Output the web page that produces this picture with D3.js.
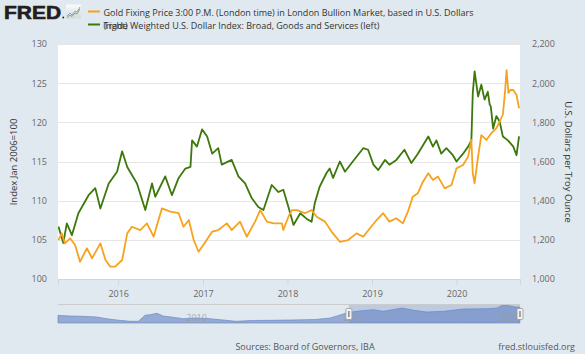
<!DOCTYPE html>
<html><head><meta charset="utf-8">
<script src="https://cdn.jsdelivr.net/npm/d3@7"></script>
<style>
body{margin:0;background:#e1e9f0;}
svg{display:block;}
text{font-family:"Open Sans",sans-serif;}
</style>
</head><body>
<svg id="c" width="585" height="354"></svg>
<script>
// ---------- DATA ----------
const dollarDates = ["2015-04-18","2015-05-09","2015-05-24","2015-06-15","2015-07-13","2015-08-26","2015-09-24","2015-10-16","2015-11-21","2015-12-27",
"2016-01-18","2016-02-09","2016-03-22","2016-04-27","2016-05-26","2016-06-09","2016-07-22","2016-08-20","2016-09-18","2016-10-17","2016-11-08","2016-11-15","2016-12-06","2016-12-28",
"2017-01-19","2017-02-10","2017-03-08","2017-03-23","2017-05-05","2017-06-03","2017-07-02","2017-07-31","2017-08-28","2017-09-19","2017-10-25","2017-11-23","2017-12-14",
"2018-01-05","2018-01-27","2018-02-25","2018-03-24","2018-04-15","2018-04-29","2018-05-20","2018-06-18","2018-07-02","2018-07-17","2018-08-15","2018-09-06","2018-10-05","2018-10-26","2018-11-24","2018-12-15",
"2019-01-07","2019-01-28","2019-02-26","2019-03-17","2019-04-16","2019-05-21","2019-06-20","2019-07-18","2019-09-01","2019-09-21","2019-10-06","2019-10-27","2019-11-18","2019-12-16",
"2020-01-01","2020-01-29","2020-02-20","2020-03-05","2020-03-11","2020-03-19","2020-04-03","2020-04-17","2020-05-01","2020-05-15","2020-05-23","2020-05-28","2020-06-07","2020-06-21","2020-07-05","2020-07-19","2020-08-10","2020-09-02","2020-09-16","2020-09-27"];
const dollarValues = [106.7,104.6,107.1,105.6,108.4,110.7,111.6,109.0,112.2,113.7,
116.3,114.3,112.2,108.8,112.2,110.5,113.1,110.7,112.9,114.1,114.3,117.7,116.9,119.1,
118.2,116.0,116.7,114.6,115.2,113.1,112.2,110.3,109.2,108.8,112.0,111.1,111.4,
109.2,106.9,108.4,107.7,107.3,109.7,111.8,113.5,114.1,112.9,115.0,113.7,114.8,115.6,116.7,116.5,
114.6,113.9,115.2,114.6,115.2,116.5,114.8,116.0,118.2,116.9,117.7,116.0,116.7,115.8,
115.0,116.0,116.9,117.7,123.7,126.5,123.3,124.8,122.9,123.9,122.3,122.0,119.2,120.8,120.1,118.2,117.7,116.9,115.8,118.2];

const goldDates = ["2015-04-18","2015-05-02","2015-05-16","2015-06-07","2015-06-29","2015-07-20","2015-08-19","2015-09-10","2015-10-16","2015-11-07","2015-11-28","2015-12-19",
"2016-01-18","2016-02-09","2016-02-29","2016-04-05","2016-05-04","2016-06-02","2016-06-23","2016-07-08","2016-08-13","2016-09-18","2016-10-09","2016-11-01","2016-11-22","2016-12-13",
"2017-01-12","2017-02-10","2017-03-08","2017-04-14","2017-05-05","2017-06-10","2017-07-09","2017-08-14","2017-09-05","2017-10-04","2017-11-02","2017-12-08","2017-12-14",
"2018-01-05","2018-01-20","2018-02-11","2018-03-17","2018-04-15","2018-05-07","2018-06-12","2018-07-10","2018-08-15","2018-09-20","2018-10-26","2018-11-24","2018-12-23",
"2019-01-21","2019-02-18","2019-03-17","2019-04-16","2019-05-14","2019-06-05","2019-06-26","2019-07-18","2019-08-09","2019-09-01","2019-09-21","2019-10-13","2019-11-11","2019-12-10",
"2020-01-01","2020-01-29","2020-02-20","2020-03-05","2020-03-11","2020-03-19","2020-04-03","2020-04-17","2020-05-09","2020-05-30","2020-06-21","2020-07-05","2020-07-19","2020-07-28","2020-08-04","2020-08-12","2020-08-20","2020-09-02","2020-09-16","2020-09-27"];
const goldValues = [1199,1233,1182,1208,1174,1088,1157,1106,1182,1097,1063,1063,
1097,1233,1267,1250,1284,1216,1301,1361,1344,1336,1267,1301,1199,1139,
1190,1242,1250,1284,1250,1293,1216,1293,1352,1293,1284,1284,1250,
1318,1352,1352,1336,1352,1318,1293,1242,1190,1199,1233,1216,1259,
1301,1336,1293,1310,1284,1344,1420,1438,1497,1540,1506,1523,1463,1480,
1565,1582,1625,1710,1540,1489,1625,1735,1710,1744,1770,1803,1840,1950,2067,1950,1965,1965,1940,1872];

const navDates = ["2006-01-01","2006-05-15","2006-10-20","2007-03-28","2007-07-23","2007-11-17","2008-04-20","2008-07-27","2008-10-12","2008-12-10","2009-03-01","2009-05-12","2009-09-06","2010-01-01","2010-06-06","2010-11-10",
"2011-09-08","2012-03-02","2012-10-08","2013-06-25","2014-03-15","2014-09-10","2015-03-20","2015-07-15","2016-01-25","2016-05-22","2016-12-24","2017-05-08","2017-10-12","2018-04-22","2018-12-12","2019-09-12","2020-01-08","2020-03-20","2020-08-08","2020-09-30"];
const navValues = [100.6,98.9,98.2,96.5,92.4,89.3,86.1,86.1,100.6,102.1,105.5,98.9,95.8,92.4,94.1,92.4,
86.1,88.0,88.5,89.3,90.5,94.1,106.2,110.3,114.2,110.3,118.3,112.8,108.6,110.3,115.9,116.6,118.3,126.3,120.7,120.0];

const leftTicks = [100,105,110,115,120,125,130];
const rightTicks = [1000,1200,1400,1600,1800,2000,2200];
const yearTicks = ["2016","2017","2018","2019","2020"];
const navYearTicks = ["2010","2015","2020"];
const xStart = "2015-04-16", xEnd = "2020-10-01";
const navStart = "2006-01-01", navEnd = "2020-10-01";

// ---------- CHART ----------
const parse = d3.timeParse("%Y-%m-%d");
const svg = d3.select("#c");
const W = 585, H = 354;
const P = {l:58, r:520, t:44, b:279};

const x = d3.scaleTime().domain([parse(xStart), parse(xEnd)]).range([P.l, P.r]);
const yL = d3.scaleLinear().domain([100,130]).range([P.b, P.t]);
const yR = d3.scaleLinear().domain([1000,2200]).range([P.b, P.t]);

svg.append("rect").attr("width",W).attr("height",H).attr("fill","#e1e9f0");
svg.append("rect").attr("x",P.l).attr("y",P.t).attr("width",P.r-P.l).attr("height",P.b-P.t).attr("fill","#ffffff");

// gridlines
svg.append("g").selectAll("line").data(leftTicks).join("line")
  .attr("x1",P.l).attr("x2",P.r).attr("y1",d=>Math.round(yL(d))+0.5).attr("y2",d=>Math.round(yL(d))+0.5)
  .attr("stroke","#e6e6e6").attr("stroke-width",1);

// left axis
const axL = svg.append("g").attr("transform",`translate(${P.l},0)`)
  .call(d3.axisLeft(yL).tickValues(leftTicks).tickSize(0).tickPadding(11));
axL.select(".domain").remove();
axL.selectAll("text").attr("font-size","9px").attr("fill","#666").attr("font-family","'Open Sans',sans-serif");

// right axis
const axR = svg.append("g").attr("transform",`translate(${P.r},0)`)
  .call(d3.axisRight(yR).tickValues(rightTicks).tickSize(0).tickPadding(12).tickFormat(d3.format(",")));
axR.select(".domain").remove();
axR.selectAll("text").attr("font-size","9px").attr("fill","#666").attr("font-family","'Open Sans',sans-serif");

// bottom axis
const axB = svg.append("g").attr("transform",`translate(0,${P.b})`)
  .call(d3.axisBottom(x).tickValues(yearTicks.map(s=>parse(s+"-01-01"))).tickSize(6).tickPadding(6).tickFormat(d3.timeFormat("%Y")));
axB.select(".domain").attr("stroke","#ccd6eb");
axB.selectAll(".tick line").attr("stroke","#ccd6eb");
axB.selectAll("text").attr("font-size","9px").attr("fill","#666").attr("font-family","'Open Sans',sans-serif");

// clip
svg.append("clipPath").attr("id","pc").append("rect").attr("x",P.l).attr("y",P.t-4).attr("width",P.r-P.l).attr("height",P.b-P.t+4);

const dollar = dollarDates.map((d,i)=>({d:parse(d), v:dollarValues[i]}));
const gold = goldDates.map((d,i)=>({d:parse(d), v:goldValues[i]}));

svg.append("path").datum(dollar).attr("clip-path","url(#pc)")
  .attr("d", d3.line().x(p=>x(p.d)).y(p=>yL(p.v)))
  .attr("fill","none").attr("stroke","#3d780b").attr("stroke-width",1.8).attr("stroke-linejoin","round");
svg.append("path").datum(gold).attr("clip-path","url(#pc)")
  .attr("d", d3.line().x(p=>x(p.d)).y(p=>yR(p.v)))
  .attr("fill","none").attr("stroke","#f5a31f").attr("stroke-width",1.8).attr("stroke-linejoin","round");

// axis titles
svg.append("text").attr("transform","translate(17,162) rotate(-90)").attr("text-anchor","middle")
  .attr("font-size","9.5px").attr("fill","#333").text("Index Jan 2006=100");
svg.append("text").attr("transform","translate(565,162) rotate(90)").attr("text-anchor","middle")
  .attr("font-size","9.5px").attr("fill","#333").text("U.S. Dollars per Troy Ounce");

// ---------- HEADER ----------
svg.append("text").attr("x",4).attr("y",18.5)
  .attr("font-weight","900").attr("font-size","17.5px").attr("fill","#231f20")
  .attr("textLength",57).attr("lengthAdjust","spacingAndGlyphs")
  .style("font-family","'Liberation Sans',Arial,sans-serif").style("stroke","#231f20").style("stroke-width","0.6px").text("FRED");
svg.append("circle").attr("cx",63.3).attr("cy",17.5).attr("r",0.9).attr("fill","#231f20");
const ig = svg.append("g");
const grad = svg.append("defs").append("linearGradient").attr("id","ig").attr("x1",0).attr("y1",0).attr("x2",0).attr("y2",1);
grad.append("stop").attr("offset","0").attr("stop-color","#fbfbfb");
grad.append("stop").attr("offset","1").attr("stop-color","#d4d9de");
ig.append("rect").attr("x",66).attr("y",4.5).attr("width",15).attr("height",14).attr("fill","url(#ig)");
ig.append("polyline").attr("points","67,16 70,13 72,15 75,11 77,12 80,7").attr("fill","none").attr("stroke","#8aa7c8").attr("stroke-width",1);
ig.append("polyline").attr("points","67,17.5 70,15 72,16.5 75,13 77,14 80,9").attr("fill","none").attr("stroke","#7fae4f").attr("stroke-width",1);

// legend
svg.append("line").attr("x1",88).attr("x2",100).attr("y1",11.5).attr("y2",11.5).attr("stroke","#f5a31f").attr("stroke-width",2);
svg.append("line").attr("x1",88).attr("x2",100).attr("y1",24.5).attr("y2",24.5).attr("stroke","#3d780b").attr("stroke-width",2);
svg.append("text").attr("x",103.5).attr("y",15.5).attr("font-size","9.6px").attr("fill","#333")
  .attr("textLength",370).attr("lengthAdjust","spacingAndGlyphs")
  .text("Gold Fixing Price 3:00 P.M. (London time) in London Bullion Market, based in U.S. Dollars");
svg.append("text").attr("x",103.5).attr("y",28.5).attr("font-size","9.6px").attr("fill","#333")
  .attr("textLength",24).attr("lengthAdjust","spacingAndGlyphs")
  .text("(right)");
svg.append("text").attr("x",103.5).attr("y",28.5).attr("font-size","9.6px").attr("fill","#333")
  .attr("textLength",276).attr("lengthAdjust","spacingAndGlyphs")
  .text("Trade Weighted U.S. Dollar Index: Broad, Goods and Services (left)");

// ---------- NAVIGATOR ----------
const NT = 304, NB = 323;
const nx = d3.scaleTime().domain([parse(navStart), parse(navEnd)]).range([P.l, P.r]);
const ny = d3.scaleLinear().domain([82,128]).range([NB, NT]);
const nav = navDates.map((d,i)=>({d:parse(d), v:navValues[i]}));
svg.append("path").datum(nav)
  .attr("d", d3.area().x(p=>nx(p.d)).y0(NB).y1(p=>ny(p.v)))
  .attr("fill","#6685c2").attr("fill-opacity",0.62).attr("stroke","#6685c2").attr("stroke-opacity",0.8).attr("stroke-width",0.8);
const hx0 = nx(x.domain()[0]), hx1 = nx(x.domain()[1]);
svg.append("rect").attr("x",hx0).attr("y",NT).attr("width",hx1-hx0).attr("height",NB-NT)
  .attr("fill","#6685c2").attr("fill-opacity",0.3);
svg.append("line").attr("x1",P.l).attr("x2",P.r).attr("y1",NT+0.5).attr("y2",NT+0.5).attr("stroke","#cccccc");
svg.append("g").selectAll("text").data(navYearTicks).join("text")
  .attr("x",d=>nx(parse(d+"-01-01"))+3).attr("y",320.5).attr("font-size","9px").attr("fill","#999").attr("fill-opacity",0.8).text(d=>d);
[hx0,hx1].forEach(h=>{
  svg.append("rect").attr("x",h-3).attr("y",308.5).attr("width",6).attr("height",11).attr("rx",1)
    .attr("fill","#f2f2f2").attr("stroke","#999").attr("stroke-width",0.8);
  svg.append("line").attr("x1",h).attr("x2",h).attr("y1",311).attr("y2",317).attr("stroke","#555").attr("stroke-width",1);
});

// ---------- FOOTER ----------
svg.append("text").attr("x",305).attr("y",350).attr("text-anchor","middle").attr("font-size","9px").attr("fill","#555")
  .text("Sources: Board of Governors, IBA");
svg.append("text").attr("x",575).attr("y",350).attr("text-anchor","end").attr("font-size","9px").attr("fill","#555")
  .text("fred.stlouisfed.org");
</script>
</body></html>
